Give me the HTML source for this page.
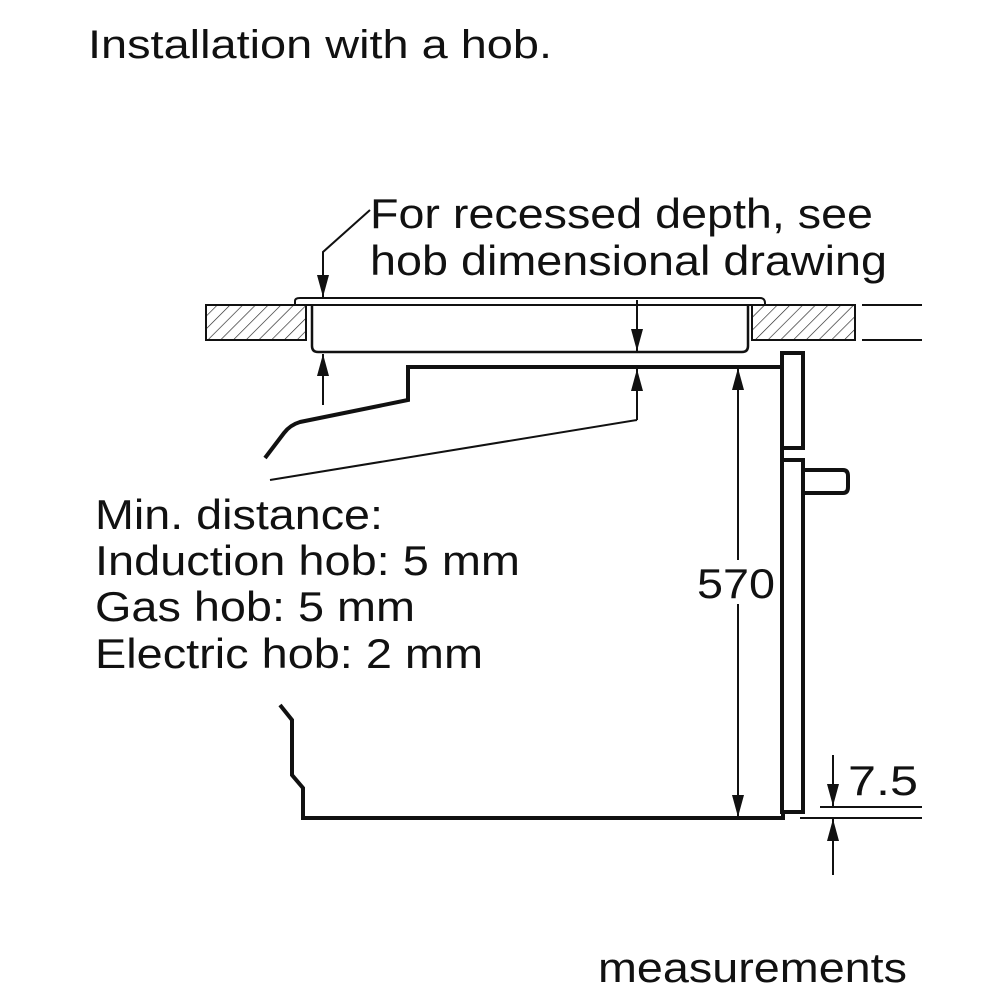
<!DOCTYPE html>
<html><head><style>
body{margin:0;background:#fff;}
svg{display:block;}
text{font-family:"Liberation Sans",sans-serif;fill:#111;}
</style></head><body>
<svg width="1000" height="1000" viewBox="0 0 1000 1000">
<defs>
<pattern id="h" patternUnits="userSpaceOnUse" width="9" height="9" patternTransform="rotate(45)">
<line x1="0" y1="0" x2="0" y2="9" stroke="#222" stroke-width="1.3"/>
</pattern>
<marker id="a" viewBox="0 0 22 12" refX="22" refY="6" markerWidth="22" markerHeight="12" markerUnits="userSpaceOnUse" orient="auto"><path d="M0,0 L22,6 L0,12 z" fill="#111"/></marker>
</defs>
<text x="88" y="58" font-size="40" textLength="464" lengthAdjust="spacingAndGlyphs">Installation with a hob.</text>
<text x="370" y="228" font-size="42" textLength="503" lengthAdjust="spacingAndGlyphs">For recessed depth, see</text>
<text x="370" y="275" font-size="42" textLength="517" lengthAdjust="spacingAndGlyphs">hob dimensional drawing</text>
<g font-size="42">
<text x="95" y="529" textLength="288" lengthAdjust="spacingAndGlyphs">Min. distance:</text>
<text x="95" y="575" textLength="425" lengthAdjust="spacingAndGlyphs">Induction hob: 5 mm</text>
<text x="95" y="621" textLength="320" lengthAdjust="spacingAndGlyphs">Gas hob: 5 mm</text>
<text x="95" y="668" textLength="388" lengthAdjust="spacingAndGlyphs">Electric hob: 2 mm</text>
</g>
<text x="598" y="982" font-size="42" textLength="309" lengthAdjust="spacingAndGlyphs">measurements</text>

<g stroke="#111" fill="none">
<rect x="206" y="305" width="100" height="35" fill="url(#h)" stroke-width="2"/>
<rect x="752" y="305" width="103" height="35" fill="url(#h)" stroke-width="2"/>
<line x1="862" y1="305" x2="922" y2="305" stroke-width="2"/>
<line x1="862" y1="340" x2="922" y2="340" stroke-width="2"/>
<path d="M295,305 L295,301 Q295,298 300,298 L760,298 Q765,298 765,303 L765,305 Z" stroke-width="2" fill="#fff"/>
<path d="M312,305 L312,346 Q312,352 318,352 L742,352 Q748,352 748,346 L748,305" stroke-width="2.5"/>
<line x1="298" y1="305" x2="762" y2="305" stroke-width="2"/>
<path d="M782,367 L408,367 L408,400 L300,422 Q290,425 284,433 L265,458" stroke-width="4"/>
<rect x="782" y="353" width="21" height="95" stroke-width="4"/>
<path d="M782,448 L782,460 L803,460 L803,812 L782,812 L782,460" stroke-width="4"/>
<path d="M803,470 L843,470 Q848,470 848,476 L848,487 Q848,493 843,493 L803,493" stroke-width="4"/>
<path d="M280,705 L292,720 L292,775 L303,788 L303,818 L783,818 L783,812" stroke-width="4"/>
<line x1="738" y1="560" x2="738" y2="368" stroke-width="2" marker-end="url(#a)"/>
<line x1="738" y1="600" x2="738" y2="817" stroke-width="2" marker-end="url(#a)"/>
<line x1="323" y1="405" x2="323" y2="354" stroke-width="2" marker-end="url(#a)"/>
<line x1="637" y1="300" x2="637" y2="351" stroke-width="2" marker-end="url(#a)"/>
<line x1="637" y1="420" x2="637" y2="369" stroke-width="2" marker-end="url(#a)"/>
<line x1="637" y1="420" x2="270" y2="480" stroke-width="2"/>
<path d="M370,210 L323,252 L323,297" stroke-width="2" marker-end="url(#a)"/>
<line x1="833" y1="755" x2="833" y2="806" stroke-width="2" marker-end="url(#a)"/>
<line x1="833" y1="875" x2="833" y2="819" stroke-width="2" marker-end="url(#a)"/>
<line x1="820" y1="807" x2="922" y2="807" stroke-width="2"/>
<line x1="800" y1="818" x2="922" y2="818" stroke-width="2"/>
</g>
<rect x="695" y="562" width="82" height="42" fill="#fff"/>
<text x="697" y="598" font-size="42" textLength="78" lengthAdjust="spacingAndGlyphs">570</text>
<text x="848" y="795" font-size="42" textLength="70" lengthAdjust="spacingAndGlyphs">7.5</text>
</svg>
</body></html>
